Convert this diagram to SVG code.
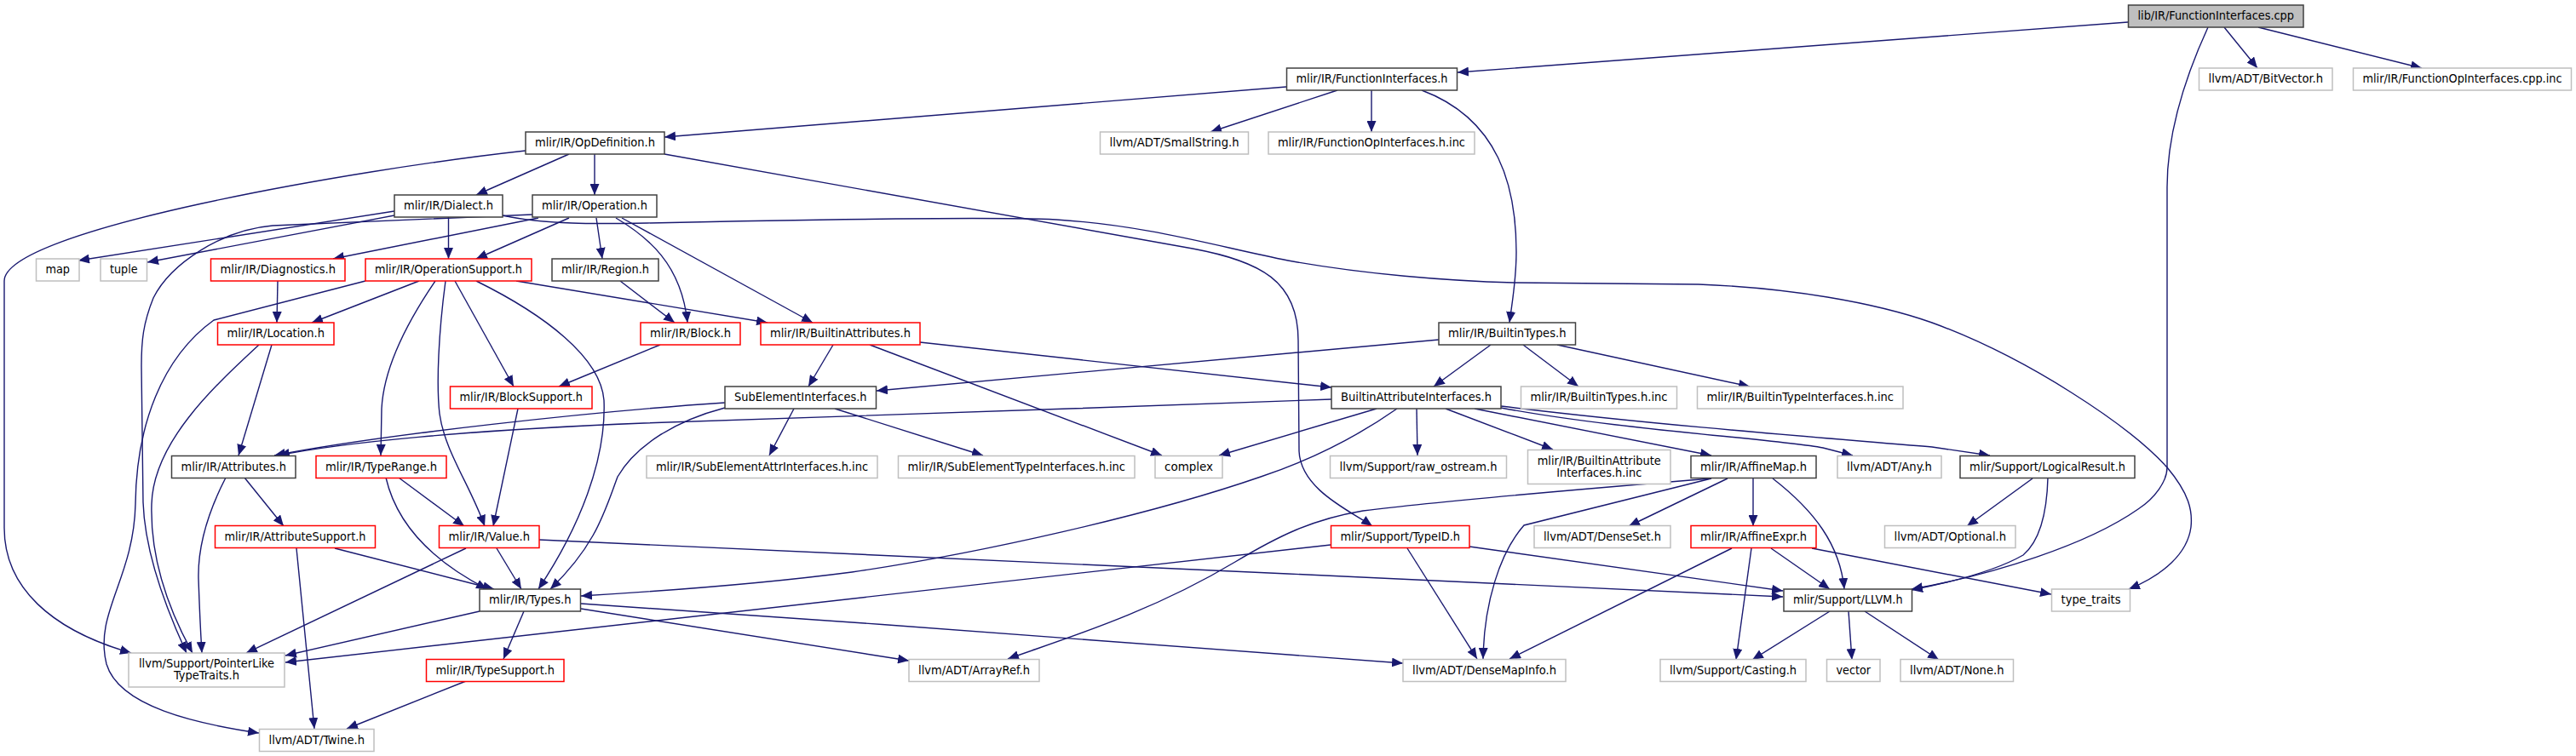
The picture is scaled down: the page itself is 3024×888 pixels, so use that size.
<svg xmlns="http://www.w3.org/2000/svg" width="3024" height="888" viewBox="0 0 3024 888">
<style>
.node rect{fill:#fff;stroke-width:1.5}
.d rect{stroke:#404040}
.g rect{stroke:#bfbfbf}
.r rect{stroke:#ff0000}
.root rect{fill:#bfbfbf;stroke:#404040}
text{font-family:"DejaVu Sans Condensed","DejaVu Sans",sans-serif;font-size:14px;text-anchor:middle;fill:#000}
#edges path{fill:none;stroke:#191970;stroke-width:1.4;marker-end:url(#a)}
</style>
<defs>
<marker id="a" viewBox="0 0 13 11" refX="13" refY="5.5" markerWidth="13" markerHeight="11" markerUnits="userSpaceOnUse" orient="auto"><path d="M0,0L13,5.5L0,11z" fill="#191970"/></marker>
</defs>
<rect width="3024" height="888" fill="#fff"/>
<g id="edges">
<path d="M2498,26L1711,85"/>
<path d="M2611,32L2650,80"/>
<path d="M2651,32L2843,80"/>
<path d="M2592,32C2570,80 2544,150 2544,220L2544,549C2544,565 2530,585 2510,598C2450,640 2340,675 2244,692"/>
<path d="M1510,102L780,161"/>
<path d="M1570,106L1421,155"/>
<path d="M1610,106L1610,155"/>
<path d="M1669,106C1760,140 1780,220 1780,296C1780,330 1775,355 1772,379"/>
<path d="M668,181L559,229"/>
<path d="M698,181L698,229"/>
<path d="M617,177C417,199 5,270 5,330L5,620C5,690 60,740 154,767"/>
<path d="M780,181L1400,292C1480,307 1524,330 1524,400L1525,530C1527,575 1585,600 1611,618"/>
<path d="M463,248L92,306"/>
<path d="M463,253L173,308"/>
<path d="M526.5,255L526.5,304"/>
<path d="M590,253C640,264 700,263 760,262C900,259 1150,254 1240,258C1350,265 1430,290 1512,306C1600,322 1700,330 1777,332C1880,333 1950,333 1994,334C2100,338 2200,355 2268,379C2380,420 2500,500 2544,549C2570,580 2574,600 2572,619C2568,650 2540,675 2499,692"/>
<path d="M632,256L391,304"/>
<path d="M668,256L559,304"/>
<path d="M700,256L707,304"/>
<path d="M723,256C760,278 800,310 807,379"/>
<path d="M730,256L954,379"/>
<path d="M625,252C500,258 400,262 320,265C260,270 200,310 180,350C168,380 166,400 166,430L168,590C170,650 195,715 219,767"/>
<path d="M728,330L792,379"/>
<path d="M492,330L366,379"/>
<path d="M511,330C470,390 450,440 448,480L447,535"/>
<path d="M523,330C515,390 512,450 516,486C522,530 552,570 569,618"/>
<path d="M534,330L603,454"/>
<path d="M559,330C640,370 705,420 709,470C712,540 680,620 632,692"/>
<path d="M606,330L901,379"/>
<path d="M429,330L251,376C190,420 160,500 159,592C157,680 110,720 125,780C140,830 230,850 304,861"/>
<path d="M775,405L656,454"/>
<path d="M326,330L325,379"/>
<path d="M319,405L280,535"/>
<path d="M304,405C250,455 180,520 178,592C176,660 200,720 226,767"/>
<path d="M608,480L579,618"/>
<path d="M978,405L949,454"/>
<path d="M1021,405L1364,535"/>
<path d="M1080,402L1563,455"/>
<path d="M1689,399L1029,459"/>
<path d="M1750,405L1683,454"/>
<path d="M1788,405L1853,454"/>
<path d="M1828,405L2054,454"/>
<path d="M851,473C700,483 450,510 322,535"/>
<path d="M851,479C790,495 745,525 725,560C710,600 700,640 646,692"/>
<path d="M932,480L903,535"/>
<path d="M980,480L1154,535"/>
<path d="M1563,469C1300,480 900,490 756,497C550,505 400,520 327,535"/>
<path d="M1616,480L1431,535"/>
<path d="M1640,480C1590,515 1540,540 1480,560C1350,605 1150,650 1000,672C900,685 800,693 682,700"/>
<path d="M1663,480L1664,535"/>
<path d="M1697,480L1823,528"/>
<path d="M1731,480L2009,535"/>
<path d="M1762,479C1900,505 2080,515 2140,526L2175,535"/>
<path d="M1762,477C1950,500 2150,515 2268,525L2336,535"/>
<path d="M287,561L333,618"/>
<path d="M265,561C245,600 232,640 233,680C234,710 235,735 237,767"/>
<path d="M468,561L545,618"/>
<path d="M453,561C462,600 490,650 572,692"/>
<path d="M393,644L580,692"/>
<path d="M348,644L369,856"/>
<path d="M583,644L612,692"/>
<path d="M547,644L289,767"/>
<path d="M633,634L1512,674L2093,701"/>
<path d="M1562,640L335,778"/>
<path d="M1652,644L1734,774"/>
<path d="M1725,642L2093,694"/>
<path d="M563,718L335,770"/>
<path d="M615,718L591,774"/>
<path d="M682,715L1067,776"/>
<path d="M682,709C1000,730 1400,760 1647,779"/>
<path d="M2009,562C1850,575 1680,590 1600,600C1540,610 1500,630 1450,660C1350,720 1250,750 1183,774"/>
<path d="M2009,562L1789,617C1760,650 1742,710 1741,774"/>
<path d="M2028,562L1912,618"/>
<path d="M2058,562L2058,618"/>
<path d="M2081,562C2130,600 2160,640 2165,692"/>
<path d="M2033,644L1772,774"/>
<path d="M2056,644L2038,775"/>
<path d="M2079,644L2148,692"/>
<path d="M2127,644L2408,698"/>
<path d="M2148,718L2057,775"/>
<path d="M2170,718L2174,775"/>
<path d="M2189,718L2276,775"/>
<path d="M2386,562L2309,618"/>
<path d="M2404,561C2403,600 2395,635 2375,652C2340,672 2290,684 2244,693"/>
<path d="M547,800L407,856"/>
</g>
<g id="n_cpp" class="node root"><rect x="2498.5" y="6" width="205.5" height="26"/><text x="2601.25" y="23" textLength="183.5" lengthAdjust="spacingAndGlyphs">lib/IR/FunctionInterfaces.cpp</text></g>
<g id="n_fi" class="node d"><rect x="1510.5" y="80" width="200" height="26"/><text x="1610.5" y="97" textLength="178" lengthAdjust="spacingAndGlyphs">mlir/IR/FunctionInterfaces.h</text></g>
<g id="n_bitvector" class="node g"><rect x="2581.5" y="80" width="156.5" height="26"/><text x="2659.75" y="97" textLength="134.5" lengthAdjust="spacingAndGlyphs">llvm/ADT/BitVector.h</text></g>
<g id="n_foicppinc" class="node g"><rect x="2762.5" y="80" width="256" height="26"/><text x="2890.5" y="97" textLength="234" lengthAdjust="spacingAndGlyphs">mlir/IR/FunctionOpInterfaces.cpp.inc</text></g>
<g id="n_opdef" class="node d"><rect x="617" y="155" width="163" height="26"/><text x="698.5" y="172" textLength="141" lengthAdjust="spacingAndGlyphs">mlir/IR/OpDefinition.h</text></g>
<g id="n_smallstring" class="node g"><rect x="1291.5" y="155" width="174" height="26"/><text x="1378.5" y="172" textLength="152" lengthAdjust="spacingAndGlyphs">llvm/ADT/SmallString.h</text></g>
<g id="n_foihinc" class="node g"><rect x="1489" y="155" width="242" height="26"/><text x="1610" y="172" textLength="220" lengthAdjust="spacingAndGlyphs">mlir/IR/FunctionOpInterfaces.h.inc</text></g>
<g id="n_dialect" class="node d"><rect x="463" y="229" width="127" height="26"/><text x="526.5" y="246" textLength="105" lengthAdjust="spacingAndGlyphs">mlir/IR/Dialect.h</text></g>
<g id="n_operation" class="node d"><rect x="625" y="229" width="146" height="26"/><text x="698" y="246" textLength="124" lengthAdjust="spacingAndGlyphs">mlir/IR/Operation.h</text></g>
<g id="n_map" class="node g"><rect x="42.5" y="304" width="50.5" height="26"/><text x="67.75" y="321" textLength="28.5" lengthAdjust="spacingAndGlyphs">map</text></g>
<g id="n_tuple" class="node g"><rect x="118" y="304" width="54.5" height="26"/><text x="145.25" y="321" textLength="32.5" lengthAdjust="spacingAndGlyphs">tuple</text></g>
<g id="n_diagnostics" class="node r"><rect x="247.5" y="304" width="157.5" height="26"/><text x="326.25" y="321" textLength="135.5" lengthAdjust="spacingAndGlyphs">mlir/IR/Diagnostics.h</text></g>
<g id="n_opsupport" class="node r"><rect x="429" y="304" width="195" height="26"/><text x="526.5" y="321" textLength="173" lengthAdjust="spacingAndGlyphs">mlir/IR/OperationSupport.h</text></g>
<g id="n_region" class="node d"><rect x="648" y="304" width="125" height="26"/><text x="710.5" y="321" textLength="103" lengthAdjust="spacingAndGlyphs">mlir/IR/Region.h</text></g>
<g id="n_location" class="node r"><rect x="255.5" y="379" width="136.5" height="26"/><text x="323.75" y="396" textLength="114.5" lengthAdjust="spacingAndGlyphs">mlir/IR/Location.h</text></g>
<g id="n_block" class="node r"><rect x="752" y="379" width="117" height="26"/><text x="810.5" y="396" textLength="95" lengthAdjust="spacingAndGlyphs">mlir/IR/Block.h</text></g>
<g id="n_builtinattrs" class="node r"><rect x="893" y="379" width="187" height="26"/><text x="986.5" y="396" textLength="165" lengthAdjust="spacingAndGlyphs">mlir/IR/BuiltinAttributes.h</text></g>
<g id="n_builtintypes" class="node d"><rect x="1689" y="379" width="160.5" height="26"/><text x="1769.25" y="396" textLength="138.5" lengthAdjust="spacingAndGlyphs">mlir/IR/BuiltinTypes.h</text></g>
<g id="n_blocksupport" class="node r"><rect x="528.5" y="454" width="166.5" height="26"/><text x="611.75" y="471" textLength="144.5" lengthAdjust="spacingAndGlyphs">mlir/IR/BlockSupport.h</text></g>
<g id="n_subelem" class="node d"><rect x="851" y="454" width="177.5" height="26"/><text x="939.75" y="471" textLength="155.5" lengthAdjust="spacingAndGlyphs">SubElementInterfaces.h</text></g>
<g id="n_bai" class="node d"><rect x="1563" y="454" width="199" height="26"/><text x="1662.5" y="471" textLength="177" lengthAdjust="spacingAndGlyphs">BuiltinAttributeInterfaces.h</text></g>
<g id="n_btinc" class="node g"><rect x="1785.5" y="454" width="183" height="26"/><text x="1877" y="471" textLength="161" lengthAdjust="spacingAndGlyphs">mlir/IR/BuiltinTypes.h.inc</text></g>
<g id="n_btiinc" class="node g"><rect x="1992.5" y="454" width="241.5" height="26"/><text x="2113.25" y="471" textLength="219.5" lengthAdjust="spacingAndGlyphs">mlir/IR/BuiltinTypeInterfaces.h.inc</text></g>
<g id="n_attributes" class="node d"><rect x="201.5" y="535.5" width="145.5" height="26"/><text x="274.25" y="552.5" textLength="123.5" lengthAdjust="spacingAndGlyphs">mlir/IR/Attributes.h</text></g>
<g id="n_typerange" class="node r"><rect x="371" y="535.5" width="153" height="26"/><text x="447.5" y="552.5" textLength="131" lengthAdjust="spacingAndGlyphs">mlir/IR/TypeRange.h</text></g>
<g id="n_seattrinc" class="node g"><rect x="759" y="535.5" width="271" height="26"/><text x="894.5" y="552.5" textLength="249" lengthAdjust="spacingAndGlyphs">mlir/IR/SubElementAttrInterfaces.h.inc</text></g>
<g id="n_setypeinc" class="node g"><rect x="1054.5" y="535.5" width="277.5" height="26"/><text x="1193.25" y="552.5" textLength="255.5" lengthAdjust="spacingAndGlyphs">mlir/IR/SubElementTypeInterfaces.h.inc</text></g>
<g id="n_complex" class="node g"><rect x="1356" y="535.5" width="79" height="26"/><text x="1395.5" y="552.5" textLength="57" lengthAdjust="spacingAndGlyphs">complex</text></g>
<g id="n_rawostream" class="node g"><rect x="1561.5" y="535.5" width="207" height="26"/><text x="1665" y="552.5" textLength="185" lengthAdjust="spacingAndGlyphs">llvm/Support/raw_ostream.h</text></g>
<g id="n_baiinc" class="node g"><rect x="1793.5" y="528.5" width="167.5" height="40"/><text x="1877.25" y="545.5" textLength="145" lengthAdjust="spacingAndGlyphs">mlir/IR/BuiltinAttribute</text><text x="1877.25" y="559.5" textLength="100" lengthAdjust="spacingAndGlyphs">Interfaces.h.inc</text></g>
<g id="n_affinemap" class="node d"><rect x="1985" y="535.5" width="147" height="26"/><text x="2058.5" y="552.5" textLength="125" lengthAdjust="spacingAndGlyphs">mlir/IR/AffineMap.h</text></g>
<g id="n_any" class="node g"><rect x="2157" y="535.5" width="122" height="26"/><text x="2218" y="552.5" textLength="100" lengthAdjust="spacingAndGlyphs">llvm/ADT/Any.h</text></g>
<g id="n_logicalresult" class="node d"><rect x="2301" y="535.5" width="205" height="26"/><text x="2403.5" y="552.5" textLength="183" lengthAdjust="spacingAndGlyphs">mlir/Support/LogicalResult.h</text></g>
<g id="n_attrsupport" class="node r"><rect x="252.5" y="617.5" width="188" height="26"/><text x="346.5" y="634.5" textLength="166" lengthAdjust="spacingAndGlyphs">mlir/IR/AttributeSupport.h</text></g>
<g id="n_value" class="node r"><rect x="515.5" y="617.5" width="117.5" height="26"/><text x="574.25" y="634.5" textLength="95.5" lengthAdjust="spacingAndGlyphs">mlir/IR/Value.h</text></g>
<g id="n_typeid" class="node r"><rect x="1562.5" y="617.5" width="162.5" height="26"/><text x="1643.75" y="634.5" textLength="140.5" lengthAdjust="spacingAndGlyphs">mlir/Support/TypeID.h</text></g>
<g id="n_denseset" class="node g"><rect x="1801" y="617.5" width="160" height="26"/><text x="1881" y="634.5" textLength="138" lengthAdjust="spacingAndGlyphs">llvm/ADT/DenseSet.h</text></g>
<g id="n_affineexpr" class="node r"><rect x="1985" y="617.5" width="147" height="26"/><text x="2058.5" y="634.5" textLength="125" lengthAdjust="spacingAndGlyphs">mlir/IR/AffineExpr.h</text></g>
<g id="n_optional" class="node g"><rect x="2212.5" y="617.5" width="153.5" height="26"/><text x="2289.25" y="634.5" textLength="131.5" lengthAdjust="spacingAndGlyphs">llvm/ADT/Optional.h</text></g>
<g id="n_types" class="node d"><rect x="563" y="692" width="118.5" height="26"/><text x="622.25" y="709" textLength="96.5" lengthAdjust="spacingAndGlyphs">mlir/IR/Types.h</text></g>
<g id="n_llvm" class="node d"><rect x="2094" y="692" width="150.5" height="26"/><text x="2169.25" y="709" textLength="128.5" lengthAdjust="spacingAndGlyphs">mlir/Support/LLVM.h</text></g>
<g id="n_typetraits" class="node g"><rect x="2408.5" y="692" width="92" height="26"/><text x="2454.5" y="709" textLength="70" lengthAdjust="spacingAndGlyphs">type_traits</text></g>
<g id="n_pointerlike" class="node g"><rect x="151" y="767" width="183" height="40"/><text x="242.5" y="783.5" textLength="159" lengthAdjust="spacingAndGlyphs">llvm/Support/PointerLike</text><text x="242.5" y="798" textLength="77" lengthAdjust="spacingAndGlyphs">TypeTraits.h</text></g>
<g id="n_typesupport" class="node r"><rect x="500.5" y="774.5" width="161.5" height="26"/><text x="581.25" y="791.5" textLength="139.5" lengthAdjust="spacingAndGlyphs">mlir/IR/TypeSupport.h</text></g>
<g id="n_arrayref" class="node g"><rect x="1067" y="774.5" width="153" height="26"/><text x="1143.5" y="791.5" textLength="131" lengthAdjust="spacingAndGlyphs">llvm/ADT/ArrayRef.h</text></g>
<g id="n_densemapinfo" class="node g"><rect x="1647" y="774.5" width="191" height="26"/><text x="1742.5" y="791.5" textLength="169" lengthAdjust="spacingAndGlyphs">llvm/ADT/DenseMapInfo.h</text></g>
<g id="n_casting" class="node g"><rect x="1949" y="774.5" width="171" height="26"/><text x="2034.5" y="791.5" textLength="149" lengthAdjust="spacingAndGlyphs">llvm/Support/Casting.h</text></g>
<g id="n_vector" class="node g"><rect x="2144.5" y="774.5" width="62.5" height="26"/><text x="2175.75" y="791.5" textLength="40.5" lengthAdjust="spacingAndGlyphs">vector</text></g>
<g id="n_none" class="node g"><rect x="2231" y="774.5" width="132.5" height="26"/><text x="2297.25" y="791.5" textLength="110.5" lengthAdjust="spacingAndGlyphs">llvm/ADT/None.h</text></g>
<g id="n_twine" class="node g"><rect x="304.5" y="856.5" width="134.5" height="26"/><text x="371.75" y="873.5" textLength="112.5" lengthAdjust="spacingAndGlyphs">llvm/ADT/Twine.h</text></g>
</svg>
